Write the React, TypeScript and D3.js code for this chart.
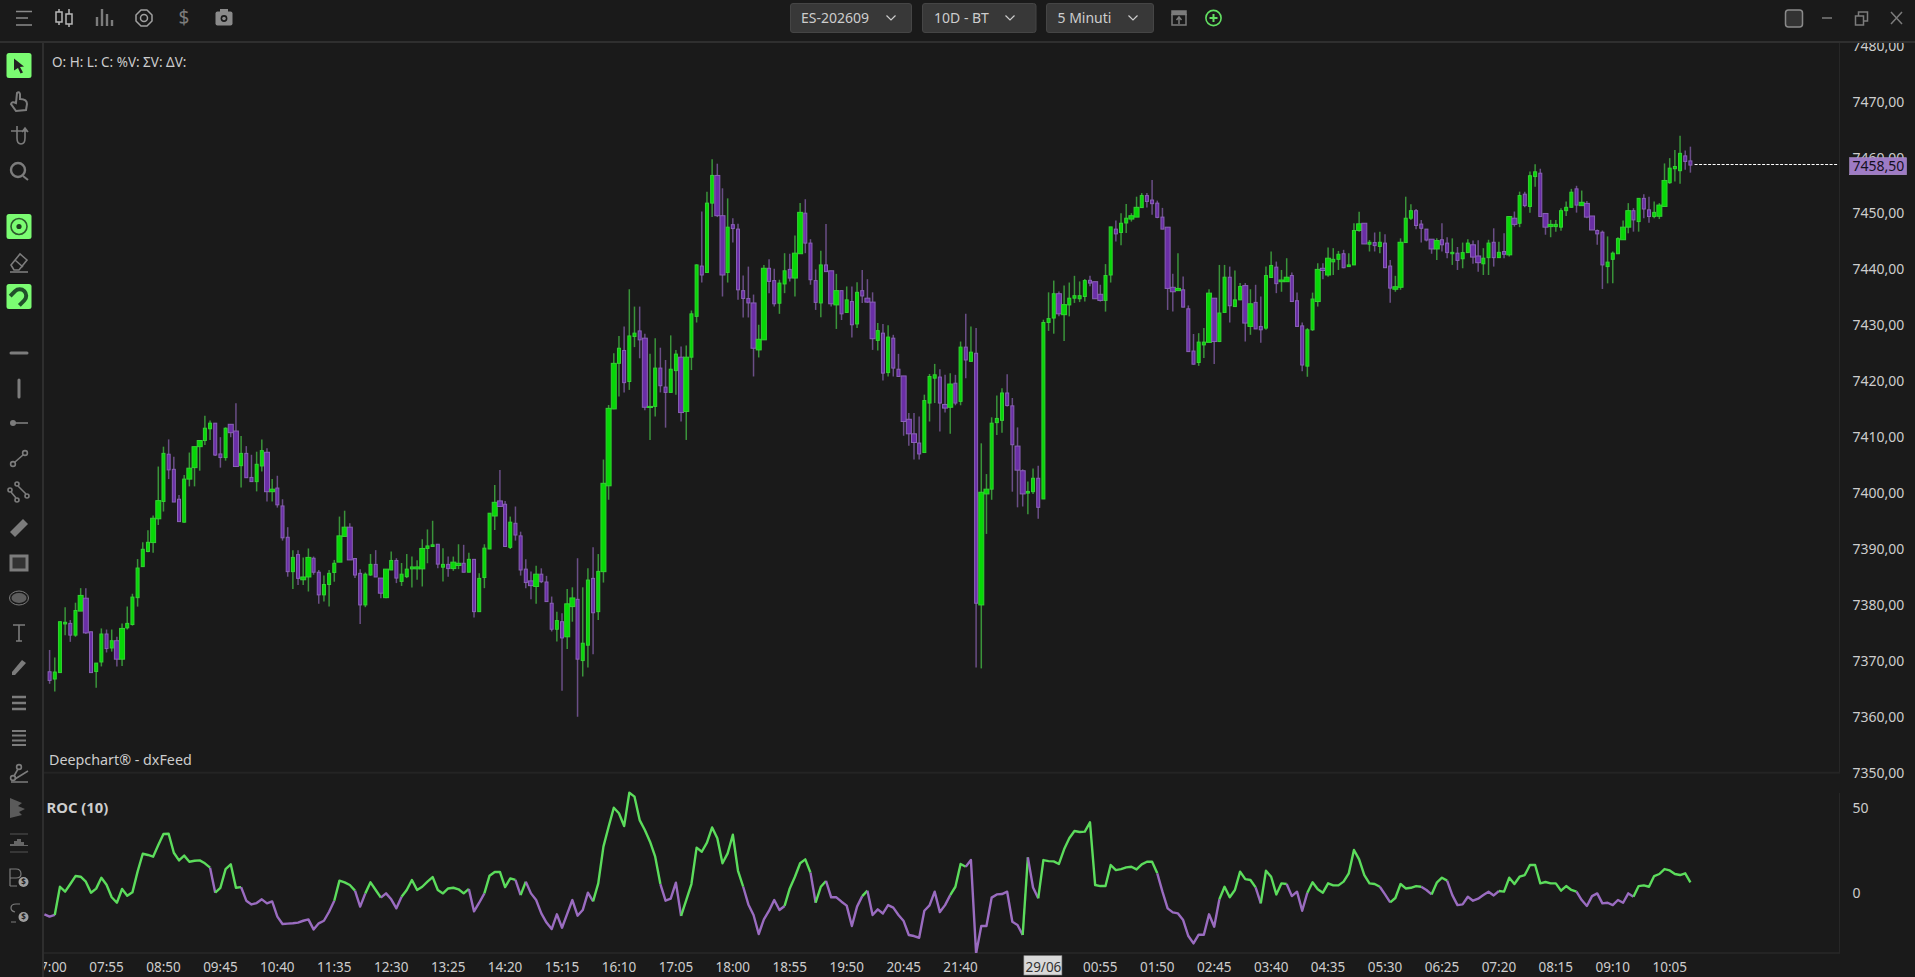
import React from "react";
import * as d3 from "d3";

const W = 1915;
const H = 977;

const opens = [
7368.05,7366.75,7367.9,7376.6,7376.7,7374.6,7378.9,7381.2,7375.2,7368.1,
7369.8,7374.8,7372.3,7373.6,7370.3,7375.9,7376.5,7381.3,7386.85,7389.55,
7391.15,7395.4,7398.5,7406.95,7404.25,7398.9,7394.8,7402.5,7404.55,7408.3,
7409.4,7411.5,7412.5,7407,7406.35,7412.3,7411.1,7404.9,7407.1,7402.8,
7402.05,7404.85,7407.3,7400.25,7400.9,7397.7,7392.1,7385.95,7389,7384.5,
7385,7388.35,7385.85,7381.8,7383.65,7385.8,7387.65,7392.25,7393.9,7388.3,
7385.65,7380,7385.35,7387.25,7384.8,7381.3,7386.25,7387.95,7384.2,7385.05,
7386.45,7386.45,7386.45,7390.1,7390.45,7390.85,7386.75,7387.25,7386.5,7387.05,
7387.45,7385.85,7388.15,7378.8,7384.9,7390,7395.9,7398.6,7398,7390.3,
7394.6,7392.35,7386.4,7384.3,7383.3,7385.5,7384.1,7380.3,7375.65,7377,
7374.3,7379.7,7381,7370.05,7372.8,7384.75,7378.8,7385.95,7401.3,7415.05,
7423.2,7425.5,7419.95,7428,7429,7427.7,7415.3,7415.5,7422.35,7418.95,
7418,7421.9,7424.3,7414.6,7424.3,7431.6,7440.6,7439.45,7451.85,7456.8,
7449.6,7439.45,7448,7447.2,7436.2,7434.8,7434,7425.6,7427.4,7440.2,
7438,7433.95,7437.4,7440,7438.45,7442.8,7450.05,7444.7,7438,7434,
7440.8,7439.75,7433.65,7436.2,7432.3,7434.25,7430.25,7436.2,7434.85,7434.15,
7427.3,7428.6,7421.55,7427.7,7422.15,7420.95,7413.2,7410.6,7408.95,7407.25,
7416.1,7420.55,7420.75,7415.85,7415.35,7419.65,7416.4,7426.1,7423.55,7425,
7380,7399.85,7400.7,7412.6,7413,7417.9,7415.6,7408.4,7404,7400,
7400.25,7402.65,7398.95,7430.5,7431.3,7435.65,7431.9,7433.65,7434.85,7434.75,
7435.15,7438.05,7437.8,7435.55,7434.45,7439,7447.2,7446.6,7448.3,7449,
7449.35,7451.05,7453.2,7452.4,7451.85,7449.35,7447.55,7436.8,7436.2,7436.35,
7432.95,7425.4,7423.35,7426.5,7426.95,7434.85,7427.1,7432.3,7438.6,7433.35,
7434.55,7437.1,7429.8,7434.1,7429.8,7429.5,7438.55,7440.4,7437.8,7437.8,
7438.9,7434.4,7429.9,7422.7,7429.2,7434.25,7440.2,7439,7441.35,7441.8,
7442.8,7440.5,7440.8,7446.95,7448.25,7444.5,7444.8,7444.1,7444.7,7440.6,
7436.45,7436.8,7444.8,7449.15,7450.5,7448.1,7447.2,7445.4,7443.65,7445.3,
7444.7,7442.8,7442.9,7441.9,7443,7444.4,7442.4,7441,7442.1,7444.85,
7442.1,7443.2,7442.6,7449.15,7448.25,7453.45,7451.25,7456.6,7457.2,7450,
7447.65,7447.65,7447.55,7450.5,7451.1,7454.4,7451.4,7451.8,7449.55,7446.95,
7446.65,7440.5,7441.8,7442.8,7445.3,7447.55,7450.5,7448.55,7452.7,7450.65,
7449.45,7449.5,7451.25,7455.5,7458,7457.65,7460.3,7459.4,
];

const highs = [
7371.95,7370.6,7377,7379.6,7377.3,7380.4,7383,7383,7375.2,7369.6,
7375.8,7375.6,7375.6,7374.3,7376.7,7379.7,7382,7388.2,7391.2,7393.35,
7396,7404.75,7408.3,7409.6,7406.5,7399.65,7403.25,7407.25,7408.3,7409.4,
7413.85,7413,7412.5,7410,7411.75,7412.3,7416.05,7410.2,7408.4,7406.85,
7407.4,7409.6,7408,7402.5,7403.1,7398.9,7393.9,7389.8,7389.8,7388.5,
7390.1,7388.65,7386.25,7385.25,7386.25,7388.05,7395.8,7396.85,7394.6,7388.3,
7386.4,7385.8,7389.1,7389.8,7384.8,7386.4,7389.55,7388.35,7387.5,7389.1,
7388.65,7388,7391.75,7393.5,7395.05,7390.85,7390.15,7388.65,7388.65,7390.85,
7390.75,7389.35,7388.15,7385.65,7390.85,7396.4,7401.45,7404.15,7398.6,7395.8,
7397.6,7393.1,7388.15,7386,7387,7386.55,7385.2,7381.5,7378.8,7378.5,
7382.85,7383.15,7388.35,7383.15,7386.55,7390.3,7389.1,7406,7415.75,7425,
7428.1,7429.8,7436.45,7433.35,7433.35,7428.5,7424.9,7427.7,7426,7423.8,
7428.2,7425.6,7426.2,7426.4,7432.65,7440.9,7450.35,7453.9,7459.7,7458.9,
7454.5,7452.7,7449.15,7448.15,7438.9,7440.5,7435.5,7430.1,7440.8,7441.8,
7440.1,7438.15,7442.9,7442.8,7446.05,7451.85,7452.55,7445.4,7440,7443.35,
7448.1,7439.75,7439.2,7436.2,7436.95,7436.95,7437.7,7439.9,7438.25,7435.9,
7430.4,7430.25,7430,7428.3,7424.9,7420.95,7414.3,7414.3,7413.7,7417.6,
7421.3,7423.1,7422.15,7421.15,7421.45,7421.15,7427.1,7432.05,7429.8,7429.5,
7408.9,7403.4,7413.55,7417.45,7418.75,7421.25,7417,7411.75,7404.25,7402.05,
7404.4,7404.9,7431,7435.9,7438,7436.05,7437.1,7437.65,7438.85,7437.85,
7438.3,7438.85,7437.8,7437.25,7440.95,7447.6,7448.75,7450.05,7451.7,7450.05,
7453,7453.65,7453.65,7456,7452.3,7451,7447.55,7439.2,7442.9,7438.75,
7433.55,7428.45,7428.6,7429.5,7436.45,7434.85,7440.8,7440.8,7440.5,7439.8,
7437.55,7437.55,7436.45,7437.25,7435.15,7440.5,7443.2,7441.4,7439.9,7442,
7439.45,7435.85,7430.5,7429.5,7435.85,7441.1,7441.1,7443.9,7443.8,7443.3,
7443.5,7442.9,7448.25,7450.3,7448.25,7445.25,7446.6,7446.75,7446.3,7441.7,
7438.85,7445.55,7453,7451.65,7450.8,7448.85,7447.2,7445.4,7445.55,7448.25,
7445.75,7445.55,7444,7444.8,7445.4,7445.15,7445.2,7443.8,7445.3,7447.35,
7444.95,7446.45,7449.55,7450.35,7453.9,7453.9,7457.5,7458.8,7458,7450,
7448.85,7448.85,7450.95,7452.15,7454.4,7454.95,7454.1,7452.25,7449.55,7447.15,
7446.95,7445.9,7443.2,7445.75,7448.75,7451.85,7450.95,7452.7,7453.45,7453,
7452.15,7451.85,7458.95,7459.9,7461.35,7463.9,7461.25,7461.95,
];

const lows = [
7365.9,7364.5,7367.9,7374.6,7373.4,7374.3,7378.9,7374.8,7367.9,7365.2,
7369,7371.5,7371.65,7369,7369.1,7375.6,7376.3,7379.7,7386.85,7389.4,
7389.35,7394.3,7396.7,7402.5,7398.4,7394.9,7394.7,7401.2,7401.2,7404,
7408.6,7409.5,7406.65,7404.55,7405.8,7410,7404.75,7401,7402.75,7402.05,
7400.3,7403.85,7398.5,7398.5,7397.4,7391.5,7385.05,7382.85,7383.55,7383.55,
7382.4,7385.4,7380.2,7380.6,7379.7,7384.15,7387.65,7392.25,7388.05,7384.8,
7376.6,7379.6,7385.2,7385,7381.2,7381.2,7386.25,7383.9,7383.4,7384.8,
7383.1,7384.5,7383.3,7387.45,7390.45,7386.55,7384.2,7385.05,7386.1,7386.4,
7385.85,7385.85,7377.75,7378.8,7383,7390,7393.4,7397.6,7390.45,7390,
7391.5,7385.25,7383,7381,7380.2,7383.9,7380.6,7375.25,7373.45,7364.65,
7372.1,7377,7360,7367.2,7368.8,7371.2,7377.3,7384,7398.8,7415,
7417.25,7418,7418.45,7426.1,7424.1,7414.8,7409.5,7413.7,7418,7411.7,
7418,7417.6,7412.8,7409.5,7422,7430.5,7437.65,7439.45,7449.35,7449.35,
7435.15,7437.65,7444.8,7434.55,7431.4,7431.4,7420.85,7424.25,7427.4,7435.75,
7433.35,7432.05,7435.75,7437.85,7435.15,7442.8,7442.9,7437.25,7432.75,7431.45,
7439.6,7433.35,7429.35,7430.95,7432.3,7427.8,7429.5,7434,7434,7425.6,
7425.5,7420.15,7420.85,7420.85,7420.85,7410.25,7408.45,7406,7406,7407.25,
7412.8,7416.1,7411,7414.4,7410.6,7415.7,7415.7,7420.55,7423.55,7368.8,
7368.65,7392.7,7398.8,7410.4,7410.8,7415.5,7400.25,7397.45,7397.6,7396.2,
7399.85,7395.4,7398.95,7429,7428.5,7431.6,7427.2,7431.6,7434,7434.15,
7434.25,7437,7434.75,7434.25,7432.45,7437.65,7445,7444.3,7446.5,7448.55,
7449.35,7451.05,7451.05,7449.75,7449.15,7447.2,7432.75,7432.45,7436.2,7433.25,
7425.3,7422.95,7422.75,7424.15,7426.95,7423.1,7427,7432.3,7430.5,7433.35,
7434.55,7427.1,7428.3,7429.35,7426.9,7429.2,7438.55,7435.75,7436,7437.8,
7434.25,7429.8,7421.8,7420.8,7429,7433.35,7438.25,7438.7,7439,7439.9,
7440.2,7440.5,7440.8,7446.75,7444.55,7443.2,7443.2,7442.9,7440.3,7434.05,
7436,7436.35,7444.8,7448.85,7447.2,7444.8,7445,7442.8,7441.7,7443.2,
7442,7440.8,7439.9,7440.2,7443,7441,7439.6,7439,7439,7440.5,
7442.1,7442,7442.3,7447.65,7447.55,7451.1,7450.15,7454.8,7449.45,7446.2,
7445.75,7446.75,7446.9,7449.55,7451.1,7450.15,7451.4,7449.15,7447.05,7444.4,
7436.5,7437.5,7437.5,7442.8,7445.3,7446.45,7446.75,7446.75,7449.15,7448.35,
7449.15,7449,7451.25,7455.3,7455.7,7455.3,7457.8,7457.3,
];

const closes = [
7366.5,7368,7377,7376.9,7374.6,7379,7381.7,7375,7367.9,7369.6,
7374.8,7372.2,7373.6,7370.3,7375.8,7376.7,7381.4,7386.6,7389.95,7391.2,
7395.5,7398.65,7407.1,7404.15,7398.4,7394.9,7402.5,7404.45,7408.3,7409.4,
7411.6,7412.5,7406.8,7406.35,7411.6,7410.8,7404.75,7407.1,7402.75,7402.05,
7405.15,7407.6,7400.25,7400.7,7397.9,7392,7385.95,7388.5,7384.75,7385,
7388.5,7385.85,7381.8,7383.65,7385.65,7387.45,7392.35,7393.9,7388.05,7385.35,
7380,7385.5,7387.25,7385,7382.1,7386.4,7387.95,7384.8,7385.5,7386.4,
7386.8,7386.8,7390.1,7390.55,7390.75,7387.3,7387.25,7386.5,7387.65,7387.45,
7385.85,7388.15,7378.8,7384.75,7390.15,7396.4,7398.35,7397.6,7390.45,7394.8,
7392.5,7386.25,7384,7383.45,7385.5,7384.15,7380.6,7375.65,7377.2,7374.1,
7380.2,7381.25,7370.3,7373.15,7384.45,7378.6,7386,7401.75,7415.15,7423.2,
7425.9,7419.75,7428.1,7428.6,7427.4,7415.35,7415.5,7422.35,7419.2,7418,
7422.15,7424.85,7414.4,7424.3,7432.05,7440.8,7439,7451.85,7456.8,7449.6,
7439,7447.55,7447.3,7436.35,7434.8,7434,7425.9,7427.5,7440.2,7437.85,
7433.85,7437.55,7439.75,7438.45,7442.9,7450.2,7444.7,7438.15,7434.1,7440.8,
7439.6,7433.85,7436.2,7432.05,7434.55,7430.1,7435.9,7435.25,7434.15,7427.6,
7429.05,7421.45,7427.9,7422.35,7420.85,7412.8,7410.6,7409.05,7407,7416.55,
7420.85,7421.15,7416.1,7415.2,7419.5,7416.1,7426.1,7423.8,7425.2,7380.3,
7400.15,7400.7,7412.5,7413.35,7417.9,7415.65,7408.65,7404.1,7399.85,7400.3,
7402.65,7397.45,7430.5,7431.2,7435.65,7432.05,7433.7,7434.85,7435.3,7435.3,
7438,7437.55,7434.75,7434.45,7438.9,7447.6,7446.35,7448.25,7449.15,7449.6,
7451.1,7453.2,7452.15,7451.75,7449.3,7447.2,7436.6,7436,7436.6,7433.25,
7425.3,7423.05,7427,7427,7435.75,7427.1,7432.2,7438.6,7433.5,7434.55,
7436.95,7430.4,7433.85,7429.35,7429.2,7438.9,7440.7,7437.45,7438.1,7438.6,
7434.25,7429.8,7422.9,7429.2,7434.7,7440,7439.8,7442,7441.8,7442.7,
7440.3,7440.8,7446.95,7448.15,7444.55,7444.85,7444.25,7444.85,7440.3,7436.65,
7436.9,7444.85,7449.15,7450.5,7447.85,7447.35,7445.25,7443.65,7445.15,7444.4,
7443,7443.05,7441.6,7443,7444.7,7442.2,7441.2,7442,7444.7,7442.1,
7443.05,7442.7,7449.45,7448.05,7453.2,7451.4,7456.75,7457.45,7449.45,7447.55,
7448.05,7448.05,7450.5,7451.1,7453.8,7451.5,7452,7449.35,7447.05,7446.35,
7440.8,7441.3,7442.9,7445.5,7447.55,7450.5,7448.85,7452.7,7450.8,7449.45,
7450.2,7451.5,7455.9,7458.1,7458.4,7460.75,7459.3,7458.65,
];

// first value belongs to the bar just before the left edge of the view
const rocValues = [
-12.7,
-14.1,-13.1,3.5,0.6,5.1,9.8,9.4,6.5,0,2.4,
8.8,4.7,-2.7,-5.9,2.2,-1.8,0.2,12.4,22.9,22.2,
21.2,28,34.5,34.7,23.5,19,21.8,18.2,18.8,19,
17.3,14.7,0,2.9,13.9,16.7,2.9,3.3,-4.7,-6.9,
-6.1,-3.9,-6.3,-5.1,-14.1,-18.4,-18.2,-18,-17.6,-16.5,
-15.7,-21.6,-18,-16.5,-11.2,-4.7,7.1,6.1,4.5,1.2,
-8.2,-0.4,6.1,1.6,-2.9,-0.4,-3.9,-9.2,-2.4,1.6,
7.5,1.6,3.5,6.5,9.2,1.6,-0.4,2.5,2.9,2,
-0.4,2.2,-11,-5.9,-0.4,10,12.2,12.2,3.3,8.4,
7.5,-1.4,6.5,-0.4,-4.3,-12.2,-17.6,-21.4,-12.7,-20.6,
-12.5,-4.3,-13.5,-10.2,0,-5.1,5.5,27.1,38.8,50,
46.7,39.2,58.8,56.5,42.7,36.9,30,21.2,5.1,-4.7,
-3.5,5.9,-13.7,-4.3,5.1,26.5,24.1,29.4,38.4,32,
17.3,23.1,34.1,12.9,3.5,-6.9,-13.1,-24.3,-15.7,-10.6,
-4.3,-10.2,-7.8,2.5,9.4,17.3,19.6,11.8,-5.9,3.5,
6.9,-2.7,-2.7,-5.3,-7.6,-19.6,-8.2,-2,1.2,-13.1,
-9.8,-12.2,-7.3,-8.8,-13.1,-16.7,-24.9,-25.5,-26.5,-10.6,
-7.5,0.6,-11.4,-7.3,-1.4,3.5,16.9,15.3,19.2,-35.7,
-19.6,-19.6,-2.9,-1,-0.8,0.6,-17.1,-19,-24.9,20.8,
3.1,-3.3,19.2,18.6,18.4,16.9,25.5,32,36.3,35.7,
35.9,41.4,4.5,3.9,3.9,16.3,13.3,13.9,14.9,15.3,
13.7,16.7,18.2,18.2,11.4,0.6,-9.2,-11.6,-12.2,-16.1,
-25.5,-29.8,-24.7,-24.7,-12.7,-20,-3.9,3.5,-2.7,1.6,
12.4,8,7.5,3.1,-6.3,12.9,9.4,-1,5.5,5.1,
-2,0.6,-10.6,0,6.1,2,0,5.5,4.3,4.3,
6.5,11.4,25.1,19.6,10.4,5.5,5.1,3.5,-1,-5.7,
-3.1,5.1,2.5,2.9,3.9,3.5,1.6,-1,5.9,8.8,
7.1,-1.4,-7.3,-6.9,-2.4,-4.7,-3.5,-1.4,0.6,-1.6,
1,0.6,8.8,5.1,9.4,10.4,16.3,16.3,5.5,6.3,
5.5,5.5,1.2,3.9,1.6,0.6,-4.3,-7.8,-2,-0.4,
-6.3,-5.9,-7.3,-4.3,-5.9,-0.4,-2.4,3.9,4.3,3.5,
9.8,11,13.9,13.1,11,10.4,11.4,6.1,
];

// bar-index spans where the ROC line is purple
const rocPurpleSpans = [
[-1,1],[31,32],[37,55],[59,61],[64,68],[81,84],[90,91],[92,105],[118,122],[134,142],
[147,148],[150,157],[158,174],[177,188],[189,191],[214,226],[233,234],[239,243],
[257,259],[265,267],[270,280],[295,306],
];

const priceTicks = [7350,7360,7370,7380,7390,7400,7410,7420,7430,7440,7450,7460,7470,7480];
const rocTicks = [0,50];
const timeLabels = ["07:00","07:55","08:50","09:45","10:40","11:35","12:30","13:25","14:20","15:15","16:10","17:05","18:00","18:55","19:50","20:45","21:40","29/06","00:55","01:50","02:45","03:40","04:35","05:30","06:25","07:20","08:15","09:10","10:05"];
const timeBars = [0,11,22,33,44,55,66,77,88,99,110,121,132,143,154,165,176,192,203,214,225,236,247,258,269,280,291,302,313];
const lastPrice = 7458.5;

const dropdowns = [
  { label: "ES-202609", x0: 790.5, x1: 911.5, tx: 801, cx: 891 },
  { label: "10D - BT", x0: 922.5, x1: 1036, tx: 934, cx: 1010 },
  { label: "5 Minuti", x0: 1046.5, x1: 1153.5, tx: 1057.5, cx: 1133 },
];

const BG = "#1a1a1a";
const GREEN_FILL = "#06d806";
const GREEN_EDGE = "#35d035";
const GREEN_WICK = "#3a943a";
const PURPLE_FILL = "#6a2ea6";
const PURPLE_EDGE = "#8a62b6";
const PURPLE_WICK = "#6a4e86";
const ROC_GREEN = "#5cdc5c";
const ROC_PURPLE = "#9a6cc0";
const TXT = "#cdcdcd";
const ICON = "#7c7c7c";
const FONT = "'Noto Sans', 'Open Sans', sans-serif";

const x = d3.scaleLinear().domain([0, 317]).range([49.6, 1690.4]);
const yPrice = d3.scaleLinear().domain([7350, 7480]).range([772.7, 45.7]);
const yRoc = d3.scaleLinear().domain([0, 50]).range([892.7, 807.7]);

function isPurple(i: number) {
  return rocPurpleSpans.some(([a, b]) => i >= a && i < b);
}

function rocRuns() {
  const pts = rocValues.map((v, k) => ({ i: k - 1, v }));
  const line = d3.line<{ i: number; v: number }>().x((d) => x(d.i)).y((d) => yRoc(d.v));
  const runs: { d: string; purple: boolean }[] = [];
  let start = 0;
  for (let k = 1; k < pts.length; k++) {
    const cur = isPurple(pts[k - 1].i);
    const next = k < pts.length - 1 ? isPurple(pts[k].i) : !cur;
    if (next !== cur || k === pts.length - 1) {
      runs.push({ d: line(pts.slice(start, k + 1)) as string, purple: cur });
      start = k;
    }
  }
  return runs;
}

function Candles() {
  return (
    <g>
      {closes.map((c, i) => {
        const up = c >= opens[i];
        const cx = x(i);
        return (
          <line key={i} x1={cx} x2={cx} y1={yPrice(highs[i])} y2={yPrice(lows[i])}
            stroke={up ? GREEN_WICK : PURPLE_WICK} strokeWidth={1.5} />
        );
      })}
      {closes.map((c, i) => {
        const up = c >= opens[i];
        const cx = x(i);
        const ph = (i - 19.6) / 7.27;
        const wide = ph - Math.floor(ph) < 0.3;
        const w = wide ? 6 : 4;
        const top = yPrice(Math.max(c, opens[i]));
        const bot = yPrice(Math.min(c, opens[i]));
        return (
          <rect key={i} x={cx - w / 2 + 0.5} width={w - 1} y={top} height={Math.max(bot - top, 1)}
            fill={up ? GREEN_FILL : PURPLE_FILL} stroke={up ? GREEN_EDGE : PURPLE_EDGE} strokeWidth={1} />
        );
      })}
    </g>
  );
}

function SideIcon({ y, children, on }: { y: number; children: React.ReactNode; on?: boolean }) {
  return (
    <g transform={`translate(19,${y})`}>
      {on && <rect x={-12.5} y={-12.5} width={25} height={25} rx={2.5} fill="#7bfc72" />}
      {children}
    </g>
  );
}

function SideBar() {
  const s = { fill: "none", stroke: ICON, strokeWidth: 1.6 };
  return (
    <g>
      <SideIcon y={65.5} on><path d="M-5,-7 L5,1 L1,1.5 L4,7 L1.5,8 L-1,2.5 L-5,5 Z" fill="#222" /></SideIcon>
      <SideIcon y={101}><path d="M-2,-8 Q0,-10 1,-7 L1,-2 Q8,-2 8,3 L7,9 L-3,10 L-8,3 Q-7,0 -3,2 Z" fill="none" stroke={ICON} strokeWidth={2} /></SideIcon>
      <SideIcon y={135}>
        <path d="M-8,-4 H8 M-2,-9 V3 Q-2,9 2,9 Q6,9 6,3 V-6 M3,-3 L6,-7 L9,-3" {...s} />
      </SideIcon>
      <SideIcon y={171}><circle cx={-1} cy={-1} r={7} fill="none" stroke={ICON} strokeWidth={2.4} /><path d="M4,5 L9,9" {...s} strokeWidth={2} /></SideIcon>
      <SideIcon y={226.5} on><circle r={8} fill="none" stroke="#2c5a2c" strokeWidth={1.6} /><circle r={2.6} fill="#1f3f1f" /></SideIcon>
      <SideIcon y={262}><path d="M-8,3 L1,-8 L8,-2 L0,8 L-5,8 Z M-4,-2 L4,5" {...s} /><path d="M-9,10 H9" {...s} /></SideIcon>
      <SideIcon y={296.5} on>
        <g transform="rotate(-135)">
          <path d="M-6.5,-6 V1 A6.5,6.5 0 0 0 6.5,1 V-6" fill="none" stroke="#20502a" strokeWidth={4} />
        </g>
      </SideIcon>
      <SideIcon y={353}><path d="M-8,0 H8" stroke={ICON} strokeWidth={3} strokeLinecap="round" /></SideIcon>
      <SideIcon y={388}><path d="M0,-8 V9" stroke={ICON} strokeWidth={3} strokeLinecap="round" /></SideIcon>
      <SideIcon y={423}><circle cx={-6} r={3} fill={ICON} /><path d="M-6,0 H9" {...s} /></SideIcon>
      <SideIcon y={458}><circle cx={-6} cy={6} r={2.4} {...s} /><circle cx={6} cy={-5} r={2.4} {...s} /><path d="M-4,4 L4,-3" {...s} /></SideIcon>
      <SideIcon y={493}><circle cx={-9} cy={-3} r={2} {...s} /><circle cx={-2} cy={7} r={2} {...s} /><circle cx={-2} cy={-9} r={2} {...s} /><circle cx={8} cy={3} r={2} {...s} /><path d="M-8,-1 L-3,5 M-1,-7 L7,1" {...s} /></SideIcon>
      <SideIcon y={528}><path d="M-9,4 L4,-9 L9,-4 L-4,9 Z" fill={ICON} /></SideIcon>
      <SideIcon y={563}><rect x={-8} y={-7} width={16} height={14} fill="#333" stroke={ICON} strokeWidth={3} /></SideIcon>
      <SideIcon y={598}><ellipse rx={9.5} ry={7} fill="none" stroke={ICON} /><ellipse rx={7.5} ry={5} fill="#5e5e5e" /></SideIcon>
      <SideIcon y={633}><path d="M-6,-8 H6 M0,-8 V8 M-3,8 H3" {...s} /></SideIcon>
      <SideIcon y={667}><path d="M-7,8 L-7,5 L3,-7 L7,-4 L-4,8 Z" fill={ICON} /></SideIcon>
      <SideIcon y={703}><path d="M-7,-6 H7 M-7,0 H7 M-7,6 H7" stroke={ICON} strokeWidth={2.6} /></SideIcon>
      <SideIcon y={738}><path d="M-7,-7 H7 M-7,-2.4 H7 M-7,2.4 H7 M-7,7 H7" stroke={ICON} strokeWidth={2} /></SideIcon>
      <SideIcon y={773}><circle cx={-6} cy={5} r={2.4} {...s} /><circle cx={0} cy={-6} r={2.4} {...s} /><path d="M-5,3 L-1,-4 M-4,6 L9,-2 M-8,9 H9" {...s} /></SideIcon>
      <SideIcon y={808}><path d="M-9,-10 L3,-5 L-1,-2 L6,1 L0,4 L3,7 L-9,10 Z" fill="#5a5a5a" /></SideIcon>
      <SideIcon y={843}><path d="M-9,-9 H9 M-9,9 H9" stroke="#555" strokeWidth={1} /><path d="M-9,1 H-5 V-2 H-2 V-4 H2 V-1 H5 V2 H9 V3 H-9 Z" fill="#666" /></SideIcon>
      <SideIcon y={878}><path d="M-9,8 V-9 H-3 Q2,-9 2,-4 Q2,0 -3,0 H-9 M-9,8 H-2" {...s} strokeWidth={1.2} /><circle cx={4.5} cy={4} r={5} fill="#a0a0a0" /><text x={4.5} y={7} fontSize={8} fontWeight={700} textAnchor="middle" fill="#222" fontFamily={FONT}>$</text></SideIcon>
      <SideIcon y={913}><path d="M1,-9 H-3 Q-8,-9 -8,-5 Q-8,-2 -4,-1 M-8,9 H-3" {...s} strokeWidth={1.2} /><circle cx={4.5} cy={4} r={5} fill="#a0a0a0" /><text x={4.5} y={7} fontSize={8} fontWeight={700} textAnchor="middle" fill="#222" fontFamily={FONT}>$</text></SideIcon>
    </g>
  );
}

function TopBar() {
  const s = { fill: "none", stroke: ICON, strokeWidth: 1.5 };
  return (
    <g>
      <rect x={0} y={0} width={W} height={41} fill={BG} />
      <rect x={0} y={41} width={W} height={2} fill="#2f2f2f" />
      <path d="M16,11.5 H32 M16,18 H28 M16,25 H32" stroke="#8a8a8a" strokeWidth={1.5} fill="none" />
      <g transform="translate(64,18)" stroke="#b8b8b8" fill="none" strokeWidth={1.5}>
        <rect x={-8} y={-6} width={6} height={10} /><path d="M-5,-9 V-6 M-5,4 V7" />
        <rect x={2} y={-4} width={6} height={10} /><path d="M5,-9 V-4 M5,6 V9" />
      </g>
      <g transform="translate(104,18)" stroke={ICON} strokeWidth={2.4}>
        <path d="M-7,8 V-1 M-2,8 V-9 M3,8 V-4 M8,8 V2" />
      </g>
      <g transform="translate(144,18)" {...s} stroke="#a0a0a0">
        <circle r={3.5} /><path d="M-3,-8 L3,-8 L8,-3 L8,3 L3,8 L-3,8 L-8,3 L-8,-3 Z" strokeLinejoin="round" />
      </g>
      <text x={184} y={24} fontSize={19} textAnchor="middle" fill={ICON} fontFamily={FONT}>$</text>
      <g transform="translate(224,18)">
        <rect x={-8.5} y={-6.5} width={17} height={14} rx={2} fill="#8a8a8a" /><rect x={-4} y={-9} width={8} height={3} fill="#8a8a8a" />
        <circle cy={0.5} r={3.4} fill={BG} /><circle cy={0.5} r={1.8} fill="#8a8a8a" />
      </g>
      {dropdowns.map((d) => (
        <g key={d.label}>
          <rect x={d.x0} y={3.5} width={d.x1 - d.x0} height={29} rx={2.5} fill="#383838" stroke="#454545" />
          <text x={d.tx} y={23} fontSize={14} fill={TXT} fontFamily={FONT}>{d.label}</text>
          <path d={`M${d.cx - 4.5},15.5 L${d.cx},20 L${d.cx + 4.5},15.5`} fill="none" stroke={TXT} strokeWidth={1.2} />
        </g>
      ))}
      <g transform="translate(1179,18)" {...s}>
        <path d="M-7,-4 V7 H7 V-4" /><rect x={-7} y={-7} width={14} height={3.5} fill={ICON} />
        <path d="M0,6 V0 M-2.5,2 L0,-1 L2.5,2" />
      </g>
      <g transform="translate(1213.5,18)" fill="none" stroke="#62e062" strokeWidth={1.6}>
        <circle r={7.6} /><path d="M-4,0 H4 M0,-4 V4" strokeWidth={2} />
      </g>
      <rect x={1785.5} y={10} width={17} height={17} rx={3} fill="#333" stroke="#8a8a8a" strokeWidth={1.5} />
      <path d="M1822,18 H1832" stroke={ICON} strokeWidth={1.5} />
      <g transform="translate(1861.5,18)" {...s}><rect x={-6} y={-2} width={8} height={9} /><path d="M-3,-2 V-6 H6 V3 H2" /></g>
      <path d="M1891,12 L1902,24 M1902,12 L1891,24" stroke={ICON} strokeWidth={1.5} />
    </g>
  );
}

export default function App() {
  const runs = rocRuns();
  return (
    <svg width={W} height={H} viewBox={`0 0 ${W} ${H}`} style={{ position: "fixed", left: 0, top: 0, background: BG }}>
      <defs>
        <clipPath id="plot"><rect x={44} y={43} width={1796} height={910} /></clipPath>
        <clipPath id="axisLabels"><rect x={44} y={954} width={1871} height={23} /></clipPath>
      </defs>
      <rect width={W} height={H} fill={BG} />

      {/* axes frame */}
      <rect x={44} y={771.7} width={1796} height={2} fill="#242424" />
      <rect x={44} y={952} width={1796} height={2} fill="#242424" />
      <rect x={1839} y={43} width={1} height={729} fill="#272727" />
      <rect x={1839} y={793} width={1} height={160} fill="#272727" />

      {/* price axis */}
      {priceTicks.map((p) => (
        <text key={p} x={1852.5} y={yPrice(p) + 5} fontSize={14} fill={TXT} fontFamily={FONT}>
          {p.toFixed(2).replace(".", ",")}
        </text>
      ))}
      {/* ROC axis */}
      {rocTicks.map((v) => (
        <text key={v} x={1852.5} y={yRoc(v) + 5} fontSize={14} fill={TXT} fontFamily={FONT}>{v}</text>
      ))}

      <g clipPath="url(#plot)">
        <Candles />
        {runs.map((r, i) => (
          <path key={i} d={r.d} fill="none" stroke={r.purple ? ROC_PURPLE : ROC_GREEN} strokeWidth={2.4} strokeLinejoin="round" />
        ))}
      </g>

      {/* last price */}
      <line x1={1694.6} x2={1838} y1={164.5} y2={164.5} stroke="#ffffff" strokeDasharray="3 1.5" strokeWidth={1.2} />
      <rect x={1849.7} y={157.7} width={56.7} height={17} fill="#9e7bc4" stroke="#b497d4" strokeWidth={0.6} />
      <text x={1852.5} y={171} fontSize={14} fill="#14101c" fontFamily={FONT}>
        {lastPrice.toFixed(2).replace(".", ",")}
      </text>

      {/* time axis */}
      <g clipPath="url(#axisLabels)">
        {timeLabels.map((t, k) => {
          const cx = x(timeBars[k]);
          const isDate = t.includes("/");
          return (
            <g key={t}>
              {isDate && <rect x={cx - 19.5} y={955.7} width={38} height={19.3} fill="#d9d9d9" stroke="#8a8a8a" strokeWidth={0.6} />}
              <text x={cx} y={971.5} fontSize={13.5} textAnchor="middle" fill={isDate ? "#333" : TXT} fontFamily={FONT}>{t}</text>
            </g>
          );
        })}
      </g>

      <text x={52} y={66.5} fontSize={13.5} fill={TXT} fontFamily={FONT}>O: H: L: C: %V: ΣV: ΔV:</text>
      <text x={49} y={764.5} fontSize={14.3} fill={TXT} fontFamily={FONT}>Deepchart® - dxFeed</text>
      <text x={46.5} y={813} fontSize={14.8} fontWeight={700} fill={TXT} fontFamily={FONT}>ROC (10)</text>

      <TopBar />
      <rect x={42} y={43} width={2} height={H - 43} fill="#2e2e2e" />
      <SideBar />
    </svg>
  );
}
